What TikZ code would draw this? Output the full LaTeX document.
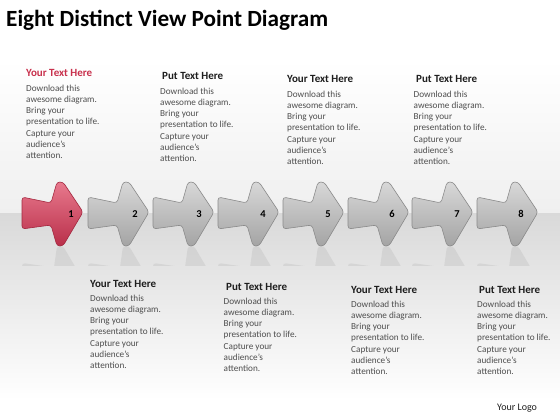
\documentclass[tikz,border=0pt]{standalone}
\usepackage{fontspec}
\setmainfont{Carlito}
\usetikzlibrary{positioning}
\definecolor{headred}{HTML}{C8304C}
\definecolor{headgray}{HTML}{1E1E1E}
\definecolor{bodygray}{HTML}{4E4E4E}
\definecolor{bandtop}{HTML}{EFEFEF}
\definecolor{bandlow}{HTML}{D9D9D9}
\definecolor{greylight}{HTML}{D8D8D8}
\definecolor{greydark}{HTML}{A4A4A4}
\definecolor{greyedge}{HTML}{8A8A8A}
\definecolor{redlight}{HTML}{E8798D}
\definecolor{reddark}{HTML}{B92F4A}
\definecolor{rededge}{HTML}{A3283F}
\newcommand{\blurbtext}{Download this\\awesome diagram.\\Bring your\\presentation to life.\\Capture your\\audience's\\attention.}
\tikzset{
    title/.style = {
        anchor=base west,
        inner sep=0pt,
        font=\fontsize{23.2}{27}\selectfont\bfseries
    },
    head/.style = {
        anchor=base west,
        inner sep=0pt,
        text=headgray,
        font=\fontsize{11}{13}\selectfont\bfseries
    },
    redhead/.style = {
        head,
        text=headred
    },
    body/.style = {
        anchor=north west,
        inner sep=0pt,
        align=left,
        text=bodygray,
        font=\fontsize{9.2}{11.3}\selectfont
    },
    num/.style = {
        inner sep=0pt,
        font=\fontsize{10.5}{12}\selectfont\bfseries
    },
    greyarrow/.style = {
        top color=greylight,
        bottom color=greydark,
        draw=greyedge,
        line width=0.6pt
    },
    redarrow/.style = {
        top color=redlight,
        bottom color=reddark,
        draw=rededge,
        line width=0.6pt
    },
    viewarrow/.pic = {
        \begin{scope}
            \clip (-2,33) rectangle (64,52);
            \fill[gray, opacity=0.14, rounded corners=3pt] (0,50) -- (29,54) -- (35,97) -- (41,97) -- (61,67) -- (41,33) -- (35,33) -- (29,76) -- (0,82) -- cycle;
        \end{scope}
        \path[pic actions, rounded corners=3pt] (0,-16) -- (29,-10) -- (35,-31) -- (41,-31) -- (61,-1) -- (41,33) -- (35,33) -- (29,12) -- (0,16) -- cycle;
    }
}
\begin{document}
\begin{tikzpicture}[x=1pt, y=-1pt]
                \useasboundingbox (0,0) rectangle (560,420);
                % backdrop
                \fill[white] (0,0) rectangle (560,420);
                \fill[top color=white, bottom color=bandtop] (0,60) rectangle (560,213);
                \fill[top color=bandlow, bottom color=white] (0,213) rectangle (560,400);

                \node[title] (title) at (6,27) {Eight Distinct View Point Diagram};

                \pic[redarrow] (a1) at (22,213) {viewarrow};
                \pic[greyarrow] (a2) at (88,213) {viewarrow};
                \pic[greyarrow] (a3) at (153,213) {viewarrow};
                \pic[greyarrow] (a4) at (218,213) {viewarrow};
                \pic[greyarrow] (a5) at (283,213) {viewarrow};
                \pic[greyarrow] (a6) at (348,213) {viewarrow};
                \pic[greyarrow] (a7) at (412,213) {viewarrow};
                \pic[greyarrow] (a8) at (477,213) {viewarrow};

                \node[num] (n1) at (71,214) {1};
                \node[num] (n2) at (135,214) {2};
                \node[num] (n3) at (199,214) {3};
                \node[num] (n4) at (263,214) {4};
                \node[num] (n5) at (328,214) {5};
                \node[num] (n6) at (392,214) {6};
                \node[num] (n7) at (457,214) {7};
                \node[num] (n8) at (521,214) {8};

                % upper row
                \node[redhead] (head1) at (26,77) {Your Text Here};
                \node[body, below=7.5pt of head1.base west, anchor=north west] (body1) {\blurbtext};
                \node[head] (head2) at (162,80) {Put Text Here};
                \node[body, below=7.5pt of head2.base west, anchor=north west, xshift=-2pt] (body2) {\blurbtext};
                \node[head] (head3) at (287,83) {Your Text Here};
                \node[body, below=7.5pt of head3.base west, anchor=north west] (body3) {\blurbtext};
                \node[head] (head4) at (416,83) {Put Text Here};
                \node[body, below=7.5pt of head4.base west, anchor=north west, xshift=-2.5pt] (body4) {\blurbtext};

                % lower row
                \node[head] (head5) at (90,287) {Your Text Here};
                \node[body, below=7.5pt of head5.base west, anchor=north west] (body5) {\blurbtext};
                \node[head] (head6) at (226,290) {Put Text Here};
                \node[body, below=7.5pt of head6.base west, anchor=north west, xshift=-2.5pt] (body6) {\blurbtext};
                \node[head] (head7) at (351,293) {Your Text Here};
                \node[body, below=7.5pt of head7.base west, anchor=north west] (body7) {\blurbtext};
                \node[head] (head8) at (479,293) {Put Text Here};
                \node[body, below=7.5pt of head8.base west, anchor=north west, xshift=-2pt] (body8) {\blurbtext};

                \node[body, anchor=base west, text=headgray, font=\fontsize{10}{12}\selectfont] (logo) at (497,410) {Your Logo};
\end{tikzpicture}
\end{document}
